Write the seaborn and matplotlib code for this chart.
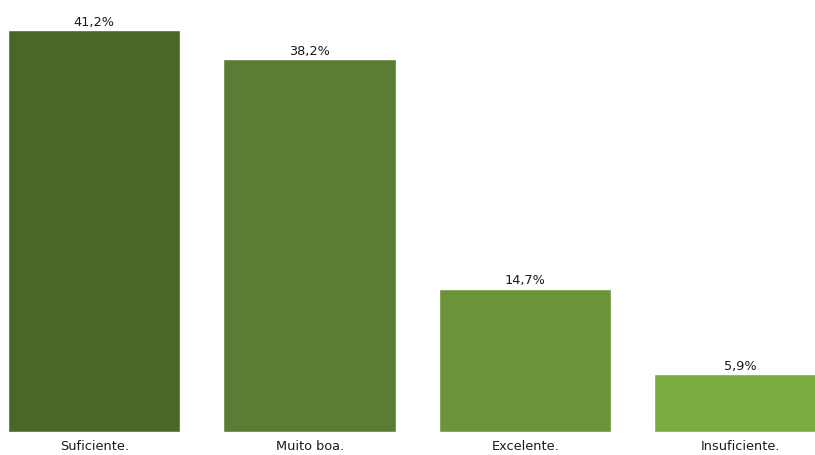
import matplotlib
matplotlib.use("Agg")
import matplotlib.pyplot as plt
import seaborn as sns
import pandas as pd

categories = ["Suficiente.", "Muito boa.", "Excelente.", "Insuficiente."]
values = [41.2, 38.2, 14.7, 5.9]
labels = ["41,2%", "38,2%", "14,7%", "5,9%"]
colors = ["#4a6629", "#5a7d33", "#6b9439", "#7aab3f"]

sns.set_theme(style="white")
plt.rcParams['font.family'] = ['DejaVu Sans']

df = pd.DataFrame({"cat": categories, "val": values})

fig = plt.figure(figsize=(8.15, 4.55), dpi=100)
ax = fig.add_axes([0, 23 / 455, 1, 432 / 455])
sns.barplot(data=df, x="cat", y="val", hue="cat", palette=colors, legend=False,
            width=0.8, ax=ax, saturation=1)
for c, lab in zip(ax.containers, labels):
    ax.bar_label(c, labels=[lab], padding=1, fontsize=9.3, color="#1a1a1a")

ax.set_xlim(-0.437, 3.345)
ax.set_ylim(0, 44.3)
ax.set_xlabel("")
ax.set_ylabel("")
ax.set_yticks([])
ax.tick_params(axis="x", length=0, pad=6, labelsize=9.3, labelcolor="#1a1a1a")
for s in ax.spines.values():
    s.set_visible(False)

fig.savefig("out.png", dpi=100)
